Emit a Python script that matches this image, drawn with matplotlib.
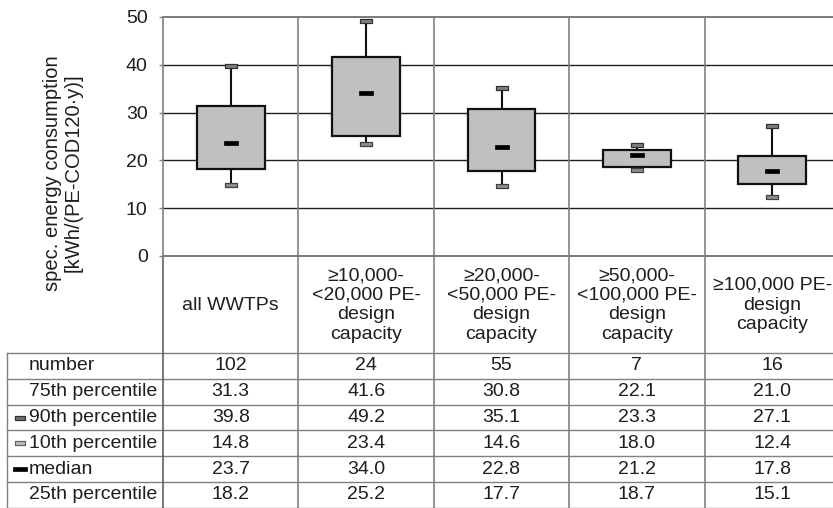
import matplotlib
matplotlib.use("Agg")
import matplotlib.pyplot as plt
import numpy as np

plt.rcParams['font.family'] = ['Liberation Sans', 'DejaVu Sans']

categories = ["all WWTPs",
              "\u226510,000-\n<20,000 PE-\ndesign\ncapacity",
              "\u226520,000-\n<50,000 PE-\ndesign\ncapacity",
              "\u226550,000-\n<100,000 PE-\ndesign\ncapacity",
              "\u2265100,000 PE-\ndesign\ncapacity"]
number = [102, 24, 55, 7, 16]
p75 = [31.3, 41.6, 30.8, 22.1, 21.0]
p90 = [39.8, 49.2, 35.1, 23.3, 27.1]
p10 = [14.8, 23.4, 14.6, 18.0, 12.4]
median = [23.7, 34.0, 22.8, 21.2, 17.8]
p25 = [18.2, 25.2, 17.7, 18.7, 15.1]
row_labels = ["number", "75th percentile", "90th percentile", "10th percentile", "median", "25th percentile"]
y_ticks = [0, 10, 20, 30, 40, 50]
ylabel = "spec. energy consumption\n[kWh/(PE-COD120\u00b7y)]"

FS = 14
TC = '#1e1e1e'
W, H = 833, 508
fig = plt.figure(figsize=(W / 100, H / 100), dpi=100)

# plot area in pixels
px_left, px_right = 163, 840
py_top, py_bottom = 17, 256
ax = fig.add_axes([px_left / W, 1 - py_bottom / H, (px_right - px_left) / W, (py_bottom - py_top) / H])

n = len(categories)
x = np.arange(n)
ax.set_xlim(-0.5, n - 0.5)
ax.set_ylim(0, 50)
ax.set_yticks(y_ticks)
ax.tick_params(axis='y', length=3, width=1, color='#808080', pad=8, labelsize=FS, labelcolor=TC)
ax.set_xticks([])
for s in ['top', 'right', 'bottom']:
    ax.spines[s].set_visible(False)
ax.spines['left'].set_color('#808080')
ax.spines['left'].set_linewidth(1.2)
for t in y_ticks:
    ax.axhline(t, color='#202020' if t not in (0, 50) else '#7a7a7a', lw=1.0 if t not in (0, 50) else 1.4,
               zorder=1, clip_on=False)
for i in range(n):
    ax.axvline(i + 0.5, color='#808080', lw=1.2, zorder=1)

# boxes
heights = [a - b for a, b in zip(p75, p25)]
ax.bar(x, heights, bottom=p25, width=0.5, color='#c0c0c0', edgecolor='#111111', linewidth=1.6, zorder=3)
ax.vlines(x, p75, p90, color='#111111', lw=1.5, zorder=2)
ax.vlines(x, p10, p25, color='#111111', lw=1.5, zorder=2)

cap = [(-1, -0.32), (1, -0.32), (1, 0.32), (-1, 0.32), (-1, -0.32)]
med = [(-1, -0.33), (1, -0.33), (1, 0.33), (-1, 0.33), (-1, -0.33)]
ax.plot(x, p90, ls='none', marker=cap, markersize=8, markerfacecolor='#808080', markeredgecolor='#303030', markeredgewidth=0.9, zorder=4)
ax.plot(x, p10, ls='none', marker=cap, markersize=8, markerfacecolor='#909090', markeredgecolor='#404040', markeredgewidth=0.9, zorder=4)
ax.plot(x, median, ls='none', marker=med, markersize=9.5, markerfacecolor='black', markeredgecolor='black', markeredgewidth=0.5, zorder=5)

fig.text(63 / W, 1 - 173 / H, ylabel, rotation=90, ha='center', va='center', multialignment='center',
         fontsize=14.5, color=TC, linespacing=1.1)

# table drawn in pixel coordinates
tax = fig.add_axes([0, 0, 1, 1], zorder=-1)
tax.set_xlim(0, W)
tax.set_ylim(H, 0)
tax.axis('off')
col_w = (px_right - px_left) / n
edges = [px_left + i * col_w for i in range(n + 1)]
row_top = 353
row_h = 25.8
grid_c = '#808080'
for r in range(len(row_labels) + 1):
    yy = row_top + r * row_h
    tax.plot([7, px_right], [yy, yy], color=grid_c, lw=1.0)
tax.plot([7, 7], [row_top, H], color=grid_c, lw=1.0)
for e in edges:
    tax.plot([e, e], [py_bottom, H], color=grid_c if e != px_left else '#606060', lw=1.2)

# header labels
for i, lab in enumerate(categories):
    cx = (edges[i] + edges[i + 1]) / 2
    tax.text(cx, 305, lab, ha='center', va='center', fontsize=FS, color=TC, linespacing=1.2, multialignment='center')

# table rows
rows = [number, p75, p90, p10, median, p25]
for r, (lab, vals) in enumerate(zip(row_labels, rows)):
    yc = row_top + (r + 0.5) * row_h
    tax.text(29, yc, lab, ha='left', va='center', fontsize=FS, color=TC)
    for i, v in enumerate(vals):
        cx = (edges[i] + edges[i + 1]) / 2
        s = str(v) if r == 0 else f"{v:.1f}"
        tax.text(cx, yc, s, ha='center', va='center', fontsize=FS, color=TC)

# legend markers in table
ym90 = row_top + 2.5 * row_h
ym10 = row_top + 3.5 * row_h
ymed = row_top + 4.5 * row_h
tax.plot([20], [ym90], ls='none', marker=cap, markersize=7.5, markerfacecolor='#707070', markeredgecolor='#303030', markeredgewidth=0.9)
tax.plot([20], [ym10], ls='none', marker=cap, markersize=7.5, markerfacecolor='#c0c0c0', markeredgecolor='#606060', markeredgewidth=0.9)
tax.plot([20], [ymed], ls='none', marker=med, markersize=9.5, markerfacecolor='black', markeredgecolor='black', markeredgewidth=0.5)

fig.savefig('out.png', dpi=100, facecolor='white')
